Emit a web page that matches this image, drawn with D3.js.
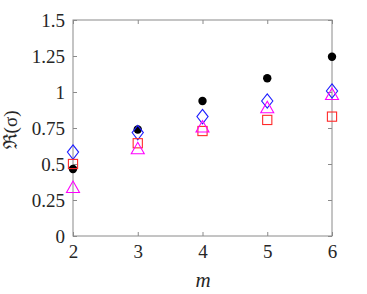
<!DOCTYPE html>
<html><head><meta charset="utf-8">
<script src="https://cdn.jsdelivr.net/npm/d3@7"></script>
<style>body{margin:0;background:#fff;}svg{display:block;} text{font-family:"Times New Roman","Liberation Serif","DejaVu Serif","Noto Serif",Times,serif !important;}</style>
</head><body>
<svg id="c" width="367" height="294"></svg>
<script>
const mValues = [2, 3, 4, 5, 6];
const dots = [0.465, 0.74, 0.9375, 1.095, 1.245];
const diamonds = [0.583, 0.718, 0.829, 0.9375, 1.007];
const squares = [0.5, 0.644, 0.729, 0.806, 0.829];
const triangles = [0.34, 0.609, 0.76, 0.894, 0.986];
const xTicks = [2, 3, 4, 5, 6];
const yTicks = [0, 0.25, 0.5, 0.75, 1, 1.25, 1.5];
const yTickLabels = ["0", "0.25", "0.5", "0.75", "1", "1.25", "1.5"];

(function () {
const svg = d3.select("#c");
const L = 73, R = 332, T = 20, B = 236;
const x = d3.scaleLinear().domain([2, 6]).range([L, R]);
const y = d3.scaleLinear().domain([0, 1.5]).range([B, T]);
const axisCol = "#8a8a8a", textCol = "#262626";

svg.append("rect").attr("x", L).attr("y", T).attr("width", R - L).attr("height", B - T)
  .attr("fill", "none").attr("stroke", axisCol).attr("stroke-width", 1);

const tl = 4;
const gB = svg.append("g").attr("transform", `translate(0,${B})`)
  .call(d3.axisBottom(x).tickValues(xTicks).tickSize(-tl).tickPadding(9).tickFormat(d3.format("d")));
const gT = svg.append("g").attr("transform", `translate(0,${T})`)
  .call(d3.axisTop(x).tickValues(xTicks).tickSize(-tl).tickFormat(""));
const gL = svg.append("g").attr("transform", `translate(${L},0)`)
  .call(d3.axisLeft(y).tickValues(yTicks).tickSize(-tl).tickPadding(8).tickFormat((d, i) => yTickLabels[i]));
const gR = svg.append("g").attr("transform", `translate(${R},0)`)
  .call(d3.axisRight(y).tickValues(yTicks).tickSize(-tl).tickFormat(""));
[gB, gT, gL, gR].forEach(g => {
  g.select(".domain").remove();
  g.selectAll(".tick line").attr("stroke", axisCol);
  g.selectAll("text").attr("fill", textCol).style("font-size", "19px");
});

const data = (arr) => arr.map((v, i) => ({m: mValues[i], v}));

svg.append("g").selectAll("circle").data(data(dots)).join("circle")
  .attr("cx", d => x(d.m)).attr("cy", d => y(d.v)).attr("r", 4.2).attr("fill", "#000");

svg.append("g").selectAll("path").data(data(diamonds)).join("path")
  .attr("d", d => { const cx = x(d.m), cy = y(d.v); return `M${cx},${cy-7.2}L${cx+5.6},${cy}L${cx},${cy+7.2}L${cx-5.6},${cy}Z`; })
  .attr("fill", "none").attr("stroke", "#1f1fff").attr("stroke-width", 1.1);

svg.append("g").selectAll("rect").data(data(squares)).join("rect")
  .attr("x", d => x(d.m) - 4.6).attr("y", d => y(d.v) - 4.6).attr("width", 9.2).attr("height", 9.2)
  .attr("fill", "none").attr("stroke", "#ff2a2a").attr("stroke-width", 1.1);

svg.append("g").selectAll("path").data(data(triangles)).join("path")
  .attr("d", d => { const cx = x(d.m), cy = y(d.v); return `M${cx},${cy-6}L${cx+6.5},${cy+5.5}L${cx-6.5},${cy+5.5}Z`; })
  .attr("fill", "none").attr("stroke", "#ff00ff").attr("stroke-width", 1.1);

svg.append("text").attr("x", 203).attr("y", 287).attr("text-anchor", "middle")
  .style("font-style", "italic").style("font-size", "21px").attr("fill", textCol).text("m");

svg.append("text").attr("transform", "translate(17,130) rotate(-90)").attr("text-anchor", "middle")
  .style("font-size", "19px").attr("fill", textCol).text("ℜ(σ)");
})();
</script>
</body></html>
